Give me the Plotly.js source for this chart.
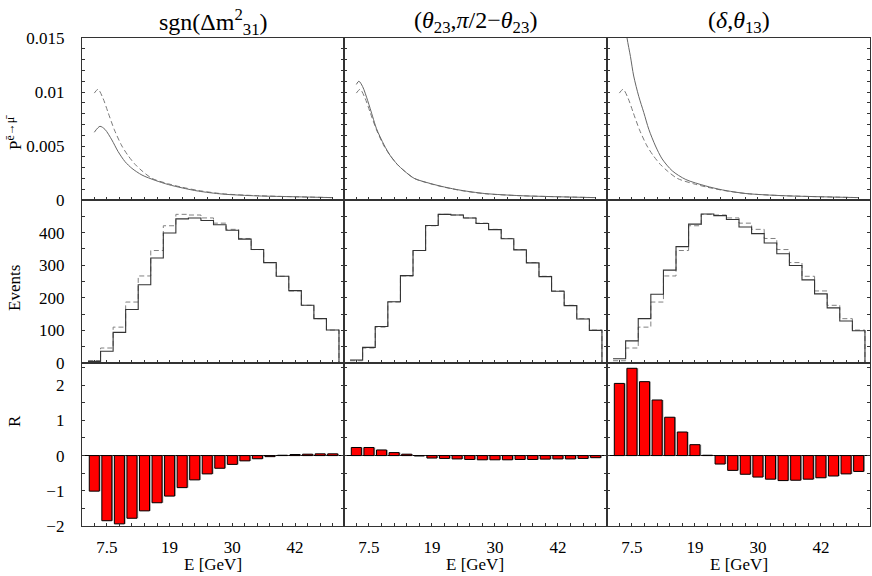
<!DOCTYPE html>
<html><head><meta charset="utf-8">
<script src="https://cdn.plot.ly/plotly-3.0.1.min.js"></script>
<style>body{margin:0;background:#fff}#chart{width:872px;height:576px}</style>
</head><body><div id="chart"></div>
<script>
// ---------- data ----------
const binIndex = [0,1,2,3,4,5,6,7,8,9,10,11,12,13,14,15,16,17,18,19];
const energyTickVals = [1, 6, 11, 16];
const energyTickText = ['7.5', '19', '30', '42'];

const columnTitles = [
  'sgn(Δm<sup>2</sup><sub>31</sub>)',
  '(<i>θ</i><sub>23</sub>,<i>π</i>/2−<i>θ</i><sub>23</sub>)',
  '(<i>δ</i>,<i>θ</i><sub>13</sub>)'
];

// probability curves (x = position in bin units)
const probRefX = [0, 0.3, 0.7, 1.1, 1.6, 2.2, 2.7, 3.25, 3.8, 4.6, 5.9, 7, 8.3, 10.2, 13, 16, 19];
const probRefY = [0.0099, 0.01025, 0.0094, 0.0081, 0.0065, 0.0050, 0.0041, 0.0033, 0.0027, 0.0020, 0.00150, 0.00118, 0.00088, 0.00058, 0.0004, 0.0003, 0.00022];

const probSgnX = [0, 0.45, 0.85, 1.4, 1.9, 2.45, 3, 3.8, 4.85, 5.9, 7, 8.3, 10.2, 13, 16, 19];
const probSgnY = [0.00627, 0.00682, 0.00654, 0.00556, 0.00448, 0.00355, 0.00293, 0.00231, 0.00182, 0.00143, 0.00112, 0.00082, 0.00055, 0.00038, 0.0003, 0.00022];

const probOctX = [0, 0.2, 0.5, 0.9, 1.3, 1.6, 2.2, 2.7, 3.25, 3.8, 4.6, 5.9, 7, 8.3, 10.2, 13, 16, 19];
const probOctY = [0.0107, 0.0110, 0.0105, 0.0092, 0.0077, 0.0066, 0.0051, 0.0041, 0.0033, 0.0027, 0.0020, 0.00152, 0.0012, 0.0009, 0.0006, 0.0004, 0.0003, 0.00022];

const probCpX = [0, 0.3, 0.61, 0.88, 1.14, 1.54, 1.94, 2.34, 2.87, 3.4, 4.2, 5.27, 6.86, 8.2, 10.05, 13, 16, 19];
const probCpY = [0.021, 0.0178, 0.0150, 0.0133, 0.01148, 0.0096, 0.0081, 0.00654, 0.0050, 0.0038, 0.0027, 0.0019, 0.0013, 0.00093, 0.0006, 0.0004, 0.0003, 0.00022];

// event spectra per bin
const eventsRef = [7, 46, 110, 187, 267, 345, 421, 456, 454, 445, 429, 410, 382, 348, 308, 266, 221, 177, 136, 101];
const eventsSgn = [5, 36, 94, 164, 240, 322, 399, 442, 445, 437, 424, 407, 380, 348, 308, 266, 222, 177, 136, 101];
const eventsOct = [9, 48, 112, 188, 268, 345, 422, 456, 454, 445, 428, 409, 381, 347, 307, 265, 220, 176, 135, 100];
const eventsCp  = [13, 68, 136, 211, 285, 357, 426, 457, 452, 440, 417, 397, 368, 335, 299, 255, 212, 169, 129, 99];

// R per bin
const rSgn = [-1.01, -1.85, -1.94, -1.78, -1.57, -1.34, -1.15, -0.91, -0.69, -0.52, -0.36, -0.25, -0.15, -0.09, -0.03, 0.01, 0.03, 0.04, 0.05, 0.05];
const rOct = [0.23, 0.23, 0.16, 0.085, 0.04, -0.01, -0.07, -0.08, -0.095, -0.11, -0.12, -0.12, -0.12, -0.11, -0.11, -0.10, -0.095, -0.095, -0.08, -0.06];
const rCp  = [2.05, 2.48, 2.10, 1.58, 1.09, 0.67, 0.31, 0.01, -0.24, -0.42, -0.53, -0.61, -0.67, -0.71, -0.70, -0.67, -0.63, -0.58, -0.52, -0.45];

// row tick labels
const probTickVals = [0, 0.005, 0.01, 0.015];
const probTickText = ['0', '0.005', '0.01', '0.015'];
const evTickVals = [0, 100, 200, 300, 400];
const evTickText = ['0', '100', '200', '300', '400'];
const rTickVals = [-2, -1, 0, 1, 2];
const rTickText = ['−2', '−1', '0', '1', '2'];

// ---------- layout ----------
const W = 872, H = 576;
const FONT = 'Liberation Serif, Times New Roman, serif';
const colX = [[82, 344], [344, 607], [607, 870]];
const rowY = [[38, 200], [200, 363], [363, 526]];
const rowRange = [[0, 0.015], [0, 500], [-2, 2.63]];
const rowTickVals = [probTickVals, evTickVals, rTickVals];
const rowTickText = [probTickText, evTickText, rTickText];
const rowMinor = [0.001, 50, 0.5];

const layout = {
  width: W, height: H,
  margin: {l: 0, r: 0, t: 0, b: 0},
  paper_bgcolor: '#fff', plot_bgcolor: '#fff',
  showlegend: false,
  barmode: 'overlay',
  font: {family: FONT, color: '#000'},
  annotations: []
};

function sfx(i) { return i === 1 ? '' : String(i); }

for (let r = 0; r < 3; r++) {
  for (let c = 0; c < 3; c++) {
    const i = r * 3 + c + 1;
    layout['xaxis' + sfx(i)] = {
      domain: [colX[c][0] / W, colX[c][1] / W],
      anchor: 'y' + sfx(i),
      range: [-0.98, 19.9],
      showgrid: false, zeroline: false,
      showline: true, linecolor: '#333', linewidth: 1.2, mirror: true,
      ticks: 'inside', ticklen: 3, tickcolor: '#333', tickwidth: 1,
      tickmode: 'array', tickvals: energyTickVals,
      ticktext: energyTickText,
      showticklabels: r === 2,
      tickfont: {family: FONT, size: 17, color: '#000'},
      ticklabelstandoff: 5,
      minor: {tickmode: 'linear', tick0: 0, dtick: 1, ticks: 'inside', ticklen: 3, tickcolor: '#333', tickwidth: 1},
      fixedrange: true
    };
    layout['yaxis' + sfx(i)] = {
      domain: [1 - rowY[r][1] / H, 1 - rowY[r][0] / H],
      anchor: 'x' + sfx(i),
      range: rowRange[r],
      showgrid: false,
      zeroline: r === 2, zerolinecolor: '#000', zerolinewidth: 1,
      showline: true, linecolor: '#333', linewidth: 1.2, mirror: 'ticks',
      ticks: 'inside', ticklen: 3, tickcolor: '#333', tickwidth: 1,
      tickmode: 'array', tickvals: rowTickVals[r], ticktext: rowTickText[r],
      showticklabels: c === 0,
      tickfont: {family: FONT, size: 17, color: '#000'},
      ticklabelstandoff: 13,
      minor: {tickmode: 'linear', tick0: 0, dtick: rowMinor[r], ticks: 'inside', ticklen: 3, tickcolor: '#333', tickwidth: 1},
      fixedrange: true
    };
  }
}

// annotations: column titles, axis titles
columnTitles.forEach((t, c) => {
  layout.annotations.push({
    text: t, xref: 'paper', yref: 'paper',
    x: (colX[c][0] + colX[c][1]) / 2 / W, y: 1 - 22 / H,
    xanchor: 'center', yanchor: 'middle', showarrow: false,
    font: {family: FONT, size: 24, color: '#000'}
  });
  layout.annotations.push({
    text: 'E [GeV]', xref: 'paper', yref: 'paper',
    x: (colX[c][0] + colX[c][1]) / 2 / W, y: 0,
    xanchor: 'center', yanchor: 'bottom', showarrow: false,
    font: {family: FONT, size: 17, color: '#000'}
  });
});
const yTitles = [
  {text: 'P<sup>ē→μ̄</sup>', y: 133},
  {text: 'Events', y: 288},
  {text: 'R', y: 421}
];
yTitles.forEach(o => {
  layout.annotations.push({
    text: o.text, xref: 'paper', yref: 'paper',
    x: 14 / W, y: 1 - o.y / H, xanchor: 'center', yanchor: 'middle',
    textangle: -90, showarrow: false,
    font: {family: FONT, size: 17, color: '#000'}
  });
});

// ---------- traces ----------
const traces = [];
function axes(i) { return {xaxis: 'x' + sfx(i), yaxis: 'y' + sfx(i)}; }

function curve(i, x, y, dashed) {
  traces.push(Object.assign({
    type: 'scatter', mode: 'lines', x: x, y: y,
    line: {color: dashed ? '#7a7a7a' : '#666', width: 1, dash: dashed ? '5px,3px' : 'solid', shape: 'spline', smoothing: 0.8},
    hoverinfo: 'skip'
  }, axes(i)));
}

function steps(vals) {
  const x = [], y = [];
  vals.forEach((v, k) => { x.push(binIndex[k] - 0.5); y.push(v); });
  const last = binIndex[binIndex.length - 1] + 0.5;
  x.push(last); y.push(vals[vals.length - 1]);
  x.push(last); y.push(0);
  return {x, y};
}

function hist(i, vals, dashed) {
  const s = steps(vals);
  traces.push(Object.assign({
    type: 'scatter', mode: 'lines', x: s.x, y: s.y,
    line: {color: dashed ? '#808080' : '#333', width: dashed ? 1 : 1.1, dash: dashed ? '5px,3px' : 'solid', shape: 'hv'},
    hoverinfo: 'skip'
  }, axes(i)));
}

function bars(i, vals) {
  traces.push(Object.assign({
    type: 'bar', x: binIndex, y: vals, width: 0.8, offset: -0.3,
    marker: {color: '#a0a0a0', line: {width: 0}}, hoverinfo: 'skip'
  }, axes(i)));
  traces.push(Object.assign({
    type: 'bar', x: binIndex, y: vals, width: 0.8,
    marker: {color: '#ff0000', line: {color: '#000', width: 1}}, hoverinfo: 'skip'
  }, axes(i)));
}

// row 1: probabilities
curve(1, probRefX, probRefY, true);  curve(1, probSgnX, probSgnY, false);
curve(2, probRefX, probRefY, true);  curve(2, probOctX, probOctY, false);
curve(3, probRefX, probRefY, true);  curve(3, probCpX, probCpY, false);
// row 2: events
hist(4, eventsRef, true); hist(4, eventsSgn, false);
hist(5, eventsRef, true); hist(5, eventsOct, false);
hist(6, eventsRef, true); hist(6, eventsCp, false);
// row 3: R
bars(7, rSgn); bars(8, rOct); bars(9, rCp);

Plotly.newPlot('chart', traces, layout, {displayModeBar: false, staticPlot: true});
</script></body></html>
